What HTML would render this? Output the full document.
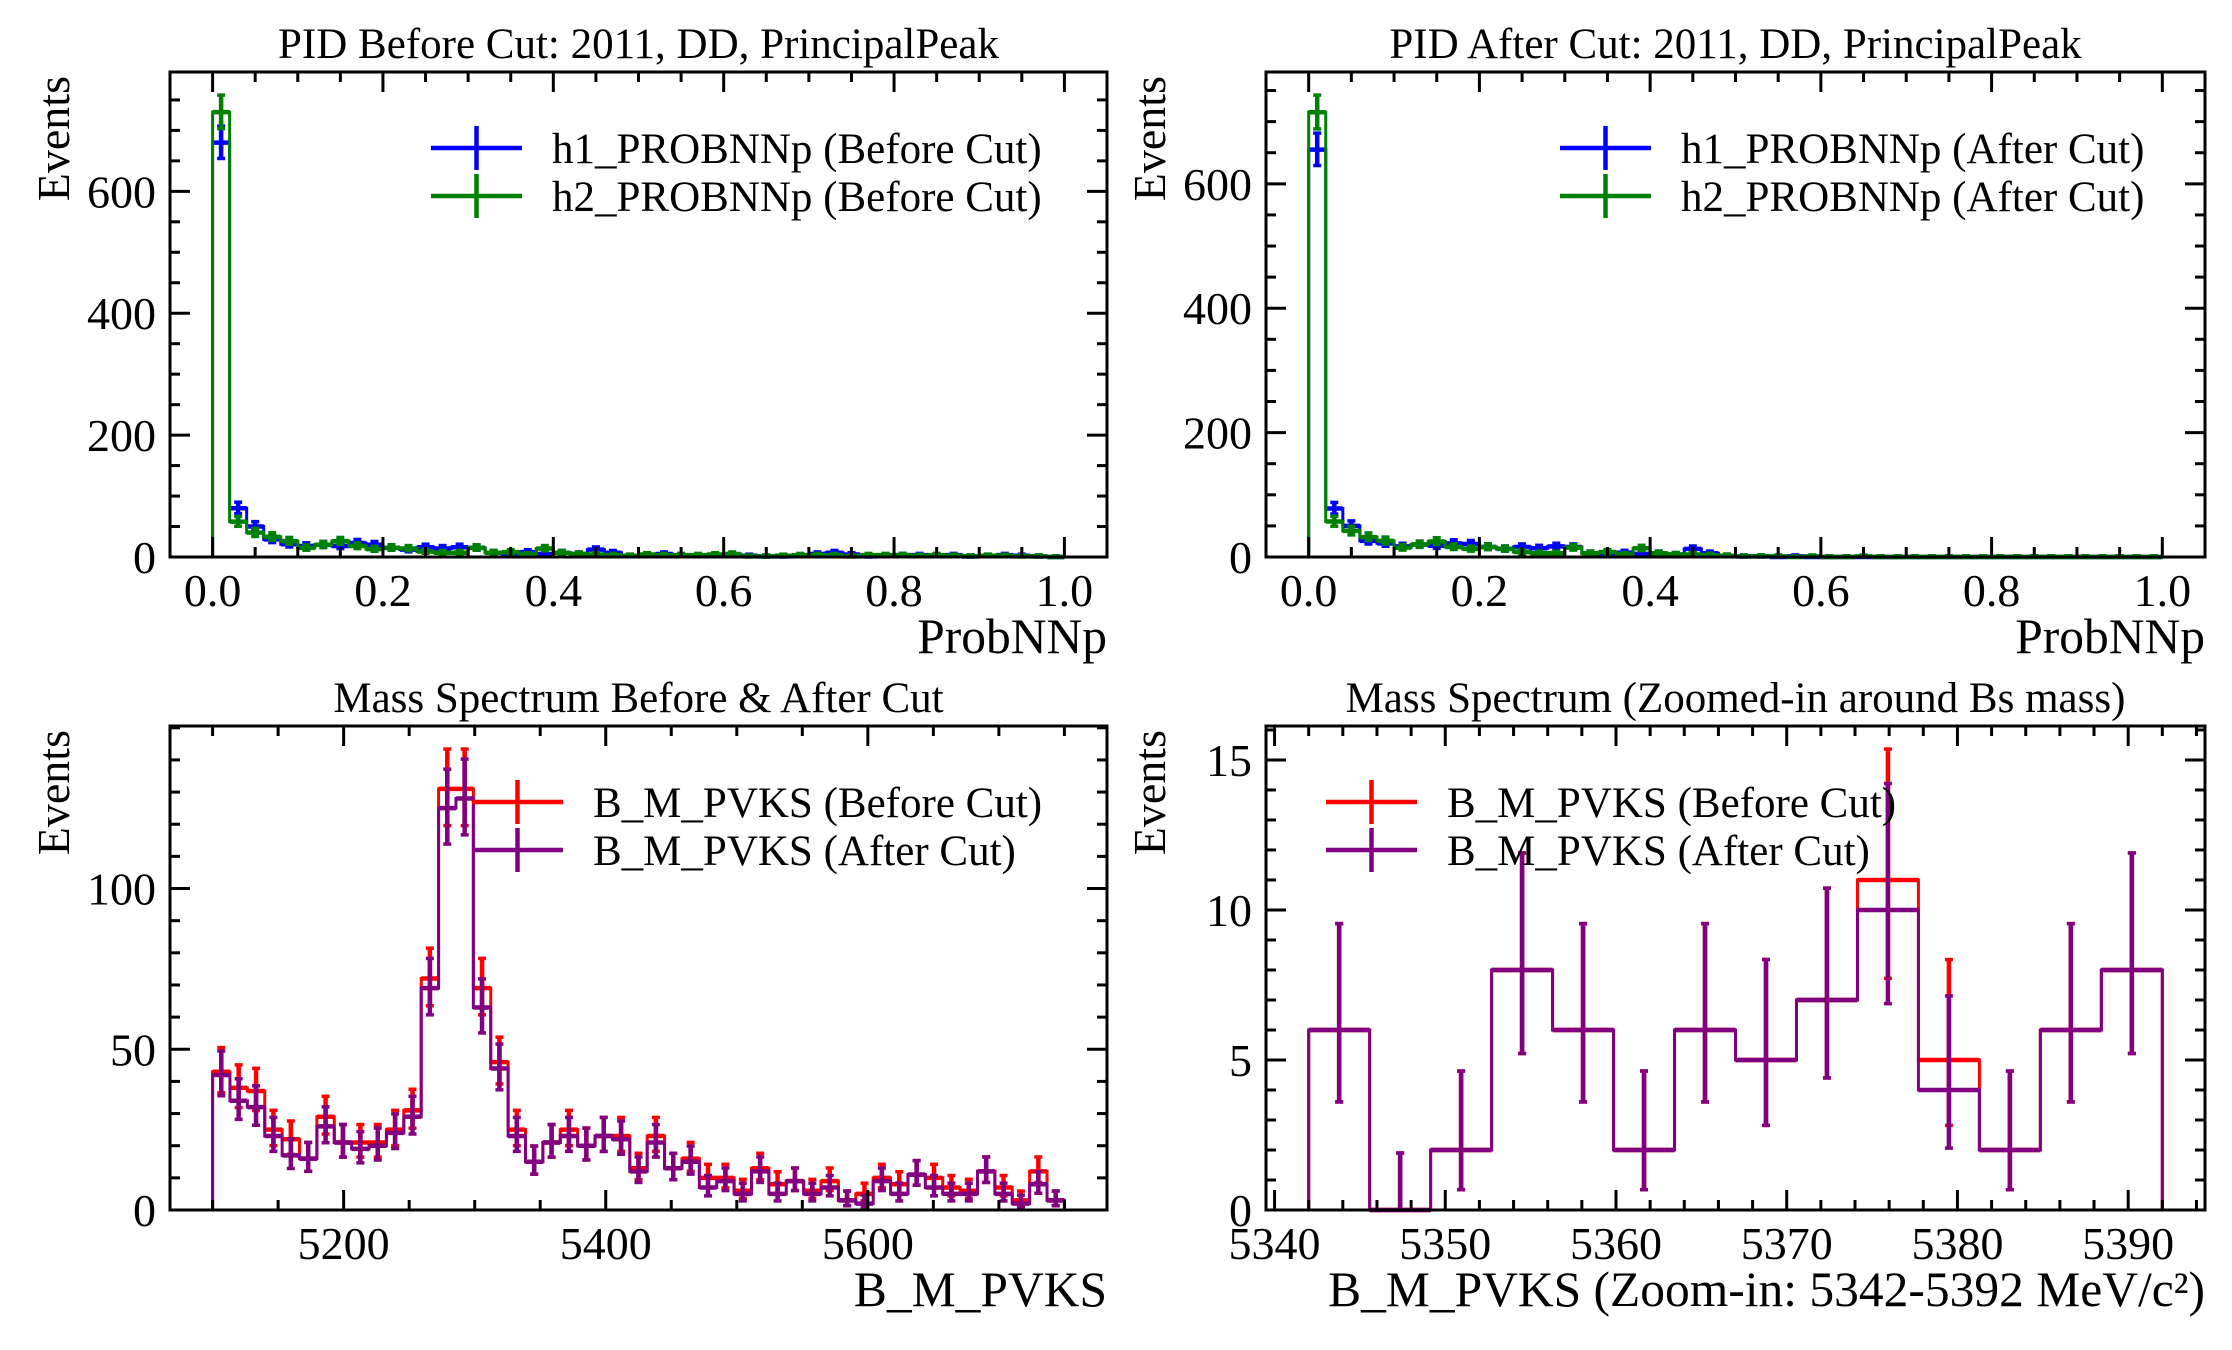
<!DOCTYPE html>
<html><head><meta charset="utf-8"><style>
html,body{margin:0;padding:0;background:#fff;}
svg{display:block;font-family:"Liberation Serif","DejaVu Serif",serif;}
</style></head><body>
<svg id="fig" width="2232" height="1350" viewBox="0 0 2232 1350" xmlns="http://www.w3.org/2000/svg"></svg>
<script>
// ---------- DATA ----------
const pidEdgesN = 50; // 0..1
const pidBeforeH1 = [680,80,50,29,21,18,20,18,23,20,15,12,16,14,16,15,7,4,8,5,7,5,12,7,2,2,5,2,2,2,3,2,1,1,2,5,7,4,1,2,3,3,2,3,1,2,3,2,1,0];
const pidBeforeH2 = [730,58,40,33,26,15,20,26,18,13,15,14,9,7,7,15,7,8,4,14,7,5,4,3,2,4,3,3,3,4,5,1,1,2,3,3,3,1,3,3,3,2,3,2,1,2,2,1,1,0];
const pidAfterH1 = [655,78,50,26,22,17,20,18,22,21,16,13,16,14,17,16,6,5,7,5,6,4,13,6,2,1,1,0,1,0,0,0,0,0,0,0,0,0,0,0,0,0,0,0,0,0,0,0,0,0];
const pidAfterH2 = [715,57,42,32,26,15,20,25,16,13,16,13,8,6,6,15,6,8,4,14,6,4,4,3,2,1,1,1,0,1,0,0,1,0,0,0,0,0,0,0,0,0,0,0,0,0,0,0,0,0];
const massRange = [5100,5750];
const massBefore = [43,38,37,25,22,16,29,21,21,21,25,31,72,131,131,69,46,25,15,21,25,20,23,23,13,23,13,16,10,10,6,13,8,9,6,9,3,5,10,8,11,10,7,6,12,7,3,12,3];
const massAfter  = [42,34,32,23,17,16,26,21,19,20,24,29,69,125,128,63,44,23,15,21,23,20,23,22,12,21,13,15,7,9,5,12,5,9,5,7,3,2,9,5,11,7,5,5,12,5,2,8,3];
const zoomRange = [5342,5392];
const zoomBefore = [6,0,2,8,6,2,6,5,7,11,5,2,6,8];
const zoomAfter  = [6,0,2,8,6,2,6,5,7,10,4,2,6,8];
const pidXTicks = [0,0.2,0.4,0.6,0.8,1.0];
const pidYTicks = [0,200,400,600];
const massXTicks = [5200,5400,5600];
const massYTicks = [0,50,100];
const zoomXTicks = [5340,5350,5360,5370,5380,5390];
const zoomYTicks = [0,5,10,15];

// ---------- DRAW ----------
const NS="http://www.w3.org/2000/svg";
const svg=document.getElementById('fig');
function el(tag,attrs,parent){const e=document.createElementNS(NS,tag);for(const k in attrs)e.setAttribute(k,attrs[k]);(parent||svg).appendChild(e);return e;}
function errLo(n){return n<=0?0:n-Math.sqrt(n-0.25);}
function errHi(n){return n+Math.sqrt(n+1)+0.9;}

function panel(cfg){
  const g=el('g',{});
  
  
  const {x0,x1,y0,y1,xmin,xmax}=cfg;
  const n=cfg.series[0].vals.length;
  const lo=cfg.range[0],hi=cfg.range[1],w=(hi-lo)/n;
  let ymax=0;cfg.series.forEach(s=>s.vals.forEach(v=>{ymax=Math.max(ymax,errHi(v));}));
  ymax*=1.05;
  const X=v=>x0+(v-xmin)/(xmax-xmin)*(x1-x0);
  const Y=v=>y1-v/ymax*(y1-y0);
  cfg.series.forEach(s=>{
    const sg=el('g',{},g);
    
    
    let d='M'+X(lo)+','+Y(0);
    s.vals.forEach((v,i)=>{d+=' L'+X(lo+i*w)+','+Y(v)+' L'+X(lo+(i+1)*w)+','+Y(v);});
    d+=' L'+X(hi)+','+Y(0);
    const p=el('path',{d:d,fill:'none',stroke:s.color,'stroke-width':3,'stroke-linejoin':'miter'},sg);
    
    
    s.vals.forEach((v,i)=>{
      const cx=X(lo+(i+0.5)*w);
      const eg=el('g',{stroke:s.color,'stroke-width':4.5},sg);
      
      
      const a=Y(errLo(v)),b=Y(errHi(v));
      el('line',{x1:cx,x2:cx,y1:a,y2:b},eg);
      el('line',{x1:cx-4,x2:cx+4,y1:a,y2:a,'stroke-width':3.5},eg);
      el('line',{x1:cx-4,x2:cx+4,y1:b,y2:b,'stroke-width':3.5},eg);
      el('line',{x1:X(lo+i*w),x2:X(lo+(i+1)*w),y1:Y(v),y2:Y(v)},eg);
    });
  });
  const fr=el('rect',{x:x0,y:y0,width:x1-x0,height:y1-y0,fill:'none',stroke:'#000','stroke-width':3},g);
  
  
  const tg=el('g',{stroke:'#000','stroke-width':3},g);
  
  
  for(let v=cfg.xMinorStart;v<=xmax+1e-9;v+=cfg.xMinor){
    if(v<xmin)continue;const isMaj=cfg.xTicks.some(t=>Math.abs(t-v)<1e-6);const L=isMaj?20:10;const x=X(v);
    el('line',{x1:x,x2:x,y1:y1,y2:y1-L},tg);el('line',{x1:x,x2:x,y1:y0,y2:y0+L},tg);
  }
  for(let v=0;v<=ymax+1e-9;v+=cfg.yMinor){
    const isMaj=cfg.yTicks.some(t=>Math.abs(t-v)<1e-6);const L=isMaj?20:10;const y=Y(v);
    el('line',{x1:x0,x2:x0+L,y1:y,y2:y},tg);el('line',{x1:x1,x2:x1-L,y1:y,y2:y},tg);
  }
  cfg.xTicks.forEach(t=>{const tx=el('text',{x:X(t),y:y1+49,'font-size':46,'text-anchor':'middle'},g);tx.textContent=cfg.xFmt(t);
    });
  cfg.yTicks.forEach(t=>{const tx=el('text',{x:x0-14,y:Y(t)+16,'font-size':46,'text-anchor':'end'},g);tx.textContent=String(t);
    });
  const ti=el('text',{x:(x0+x1)/2,y:y0-14,'font-size':43,'text-anchor':'middle'},g);ti.textContent=cfg.title;
  
  const xl=el('text',{x:x1,y:y1+96,'font-size':49.5,'text-anchor':'end'},g);xl.textContent=cfg.xlabel;
  
  const yl=el('text',{x:0,y:0,'font-size':46,'text-anchor':'end',transform:'translate('+(x0-101)+','+(y0+4)+') rotate(-90)'},g);yl.textContent='Events';
  
  cfg.series.forEach((s,i)=>{
    const ly=cfg.legY+i*48;
    const lg=el('g',{},g);
    
    
    el('line',{x1:cfg.legX,x2:cfg.legX+91,y1:ly,y2:ly,stroke:s.color,'stroke-width':4.5},lg);
    el('line',{x1:cfg.legX+45.5,x2:cfg.legX+45.5,y1:ly-22,y2:ly+22,stroke:s.color,'stroke-width':4.5},lg);
    const t=el('text',{x:cfg.legX+121,y:ly+15,'font-size':43},lg);t.textContent=s.label;
  });
}

panel({name:'pid-before-panel',x0:170,x1:1107,y0:72,y1:557,xmin:-0.05,xmax:1.05,range:[0,1],
  xTicks:pidXTicks,xMinor:0.05,xMinorStart:0,yTicks:pidYTicks,yMinor:50,xFmt:v=>v.toFixed(1),
  title:'PID Before Cut: 2011, DD, PrincipalPeak',xlabel:'ProbNNp',legX:431,legY:148,
  series:[{name:'h1-before',vals:pidBeforeH1,color:'#0000ff',label:'h1_PROBNNp (Before Cut)'},
          {name:'h2-before',vals:pidBeforeH2,color:'#008000',label:'h2_PROBNNp (Before Cut)'}]});
panel({name:'pid-after-panel',x0:1266,x1:2205,y0:72,y1:557,xmin:-0.05,xmax:1.05,range:[0,1],
  xTicks:pidXTicks,xMinor:0.05,xMinorStart:0,yTicks:pidYTicks,yMinor:50,xFmt:v=>v.toFixed(1),
  title:'PID After Cut: 2011, DD, PrincipalPeak',xlabel:'ProbNNp',legX:1560,legY:148,
  series:[{name:'h1-after',vals:pidAfterH1,color:'#0000ff',label:'h1_PROBNNp (After Cut)'},
          {name:'h2-after',vals:pidAfterH2,color:'#008000',label:'h2_PROBNNp (After Cut)'}]});
panel({name:'mass-panel',x0:170,x1:1107,y0:726,y1:1210,xmin:5067.5,xmax:5782.5,range:massRange,
  xTicks:massXTicks,xMinor:50,xMinorStart:5100,yTicks:massYTicks,yMinor:10,xFmt:v=>String(v),
  title:'Mass Spectrum Before & After Cut',xlabel:'B_M_PVKS',legX:472,legY:802,
  series:[{name:'mass-before',vals:massBefore,color:'#ff0000',label:'B_M_PVKS (Before Cut)'},
          {name:'mass-after',vals:massAfter,color:'#800080',label:'B_M_PVKS (After Cut)'}]});
panel({name:'mass-zoom-panel',x0:1266,x1:2205,y0:726,y1:1210,xmin:5339.5,xmax:5394.5,range:zoomRange,
  xTicks:zoomXTicks,xMinor:2,xMinorStart:5340,yTicks:zoomYTicks,yMinor:1,xFmt:v=>String(v),
  title:'Mass Spectrum (Zoomed-in around Bs mass)',xlabel:'B_M_PVKS (Zoom-in: 5342-5392 MeV/c²)',legX:1326,legY:802,
  series:[{name:'zoom-before',vals:zoomBefore,color:'#ff0000',label:'B_M_PVKS (Before Cut)'},
          {name:'zoom-after',vals:zoomAfter,color:'#800080',label:'B_M_PVKS (After Cut)'}]});
</script>
</body></html>
